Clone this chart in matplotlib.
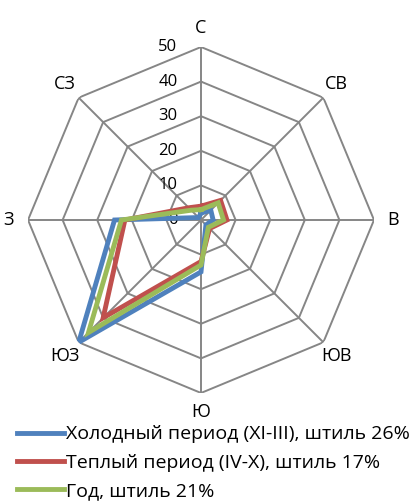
import numpy as np
import matplotlib
matplotlib.use("Agg")
import matplotlib.pyplot as plt

plt.rcParams['font.family'] = ['Open Sans', 'DejaVu Sans']

# Data
directions = ["С", "СВ", "В", "ЮВ", "Ю", "ЮЗ", "З", "СЗ"]
cold = [2, 4, 3.5, 2, 15, 50, 25, 1]
warm = [4, 8, 7.5, 3.5, 12, 40, 22, 5]
year = [3, 7, 6.5, 3, 13, 46, 23, 4]
rings = [10, 20, 30, 40, 50]
ring_labels = ["0", "10", "20", "30", "40", "50"]
series_names = [
    "Холодный период (XI-III), штиль 26%",
    "Теплый период (IV-X), штиль 17%",
    "Год, штиль 21%",
]
colors = ["#4F81BD", "#C0504D", "#9BBB59"]

n = len(directions)
angles = np.arange(n) * 2 * np.pi / n
closed = np.append(angles, angles[0])

fig = plt.figure(figsize=(4.2, 5.01), dpi=100)
ax = fig.add_axes([0.0667, 0.2156, 0.8238, 0.6906], projection="polar")
ax.set_theta_zero_location("N")
ax.set_theta_direction(-1)
ax.set_ylim(0, 50)
ax.grid(False)
ax.spines["polar"].set_visible(False)
ax.set_xticks([])
ax.set_yticks([])
ax.patch.set_visible(False)

grid_color = "#868686"
# octagonal rings
for r in rings:
    ax.plot(closed, [r] * (n + 1), color=grid_color, lw=1.4, zorder=1)
# spokes
for a in angles:
    ax.plot([a, a], [0, 50], color=grid_color, lw=1.4, zorder=1)

# radial labels along north axis
for i, lab in enumerate(ring_labels):
    ax.annotate(lab, xy=(0, i * 10), xytext=(-17, 0), textcoords="offset points",
                ha="right", va="center", fontsize=12, annotation_clip=False)

# direction labels
for a, d in zip(angles, directions):
    ax.text(a, 55.5, d, ha="center", va="center", fontsize=13)

handles = []
for vals, name, c in zip([cold, warm, year], series_names, colors):
    h, = ax.plot(closed, vals + [vals[0]], color=c, lw=3.5, label=name,
                 solid_joinstyle="miter", zorder=3)
    handles.append(h)

fig.legend(handles=handles, loc="upper left", bbox_to_anchor=(0.04, 0.151),
           frameon=False, fontsize=14, handlelength=2.45, handletextpad=0.1,
           labelspacing=0.53, borderpad=0, borderaxespad=0)

fig.savefig("out.png", dpi=100)
